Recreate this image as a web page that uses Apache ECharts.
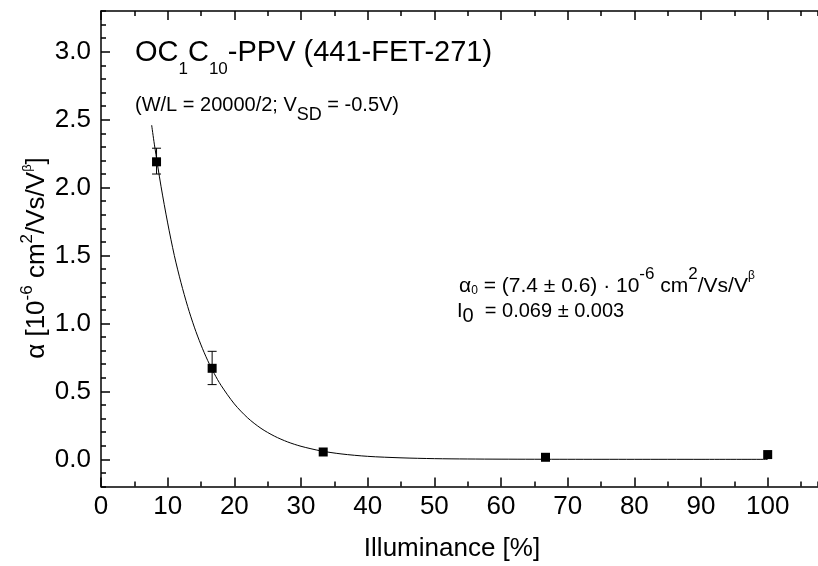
<!DOCTYPE html>
<html>
<head>
<meta charset="utf-8">
<script src="https://cdn.jsdelivr.net/npm/echarts@6/dist/echarts.min.js"></script>
<style>
html,body{margin:0;padding:0;background:#fff;}
#chart{width:818px;height:566px;}
</style>
</head>
<body>
<div id="chart"></div>
<script>
// Measured data points (Illuminance %, alpha in 1e-6 cm2/Vs/V^beta)
var pointX = [8.33, 16.67, 33.33, 66.67, 100];
var pointY = [2.19, 0.67, 0.054, 0.015, 0.035];
// Error bars (only visible on the first two points)
var errX = [8.33, 16.67];
var errLow = [2.10, 0.55];
var errHigh = [2.29, 0.795];
// Fit curve
var curveX = [7.6, 8, 9, 10, 11, 12, 13, 14, 15, 16, 17, 18, 20, 22, 24, 26, 28, 30, 33, 36, 40, 45, 50, 55, 60, 70, 80, 90, 100];
var curveY = [2.46, 2.32, 2.01, 1.74, 1.50, 1.30, 1.125, 0.973, 0.842, 0.728, 0.630, 0.545, 0.408, 0.305, 0.228, 0.171, 0.128, 0.096, 0.062, 0.040, 0.022, 0.011, 0.005, 0.0025, 0.0012, 0.0003, 0.0001, 0, 0];
// Tick labels
var xTickVals = [0, 10, 20, 30, 40, 50, 60, 70, 80, 90, 100];
var yTickVals = [0, 0.5, 1.0, 1.5, 2.0, 2.5, 3.0];

var FONT = 'Liberation Sans, Arial, sans-serif';
var chart = echarts.init(document.getElementById('chart'), null, {renderer: 'canvas'});

function pairs(xs, ys) { return xs.map(function (x, i) { return [x, ys[i]]; }); }

var axisLineStyle = {show: true, onZero: false, lineStyle: {color: '#000', width: 1.5}};
var noLine = {show: false, onZero: false};
var minorTickStyle = {show: true, inside: true, length: 5, lineStyle: {color: '#000', width: 1.5}};

function xAx(pos, major, withLabels, withLine) {
  return {
    type: 'value', position: pos, min: 0, max: 107.5, interval: 5,
    axisLine: withLine ? axisLineStyle : noLine,
    axisTick: major ? {show: true, inside: true, length: 9, customValues: xTickVals, lineStyle: {color: '#000', width: 1.5}} : minorTickStyle,
    axisLabel: withLabels ? {show: true, customValues: xTickVals, color: '#000', fontSize: 26, fontFamily: FONT, margin: 7} : {show: false},
    splitLine: {show: false}
  };
}
function yAx(major, withLabels, withLine) {
  return {
    type: 'value', position: 'left', min: -0.2, max: 3.3, interval: 0.1,
    axisLine: withLine ? axisLineStyle : noLine,
    axisTick: major ? {show: true, inside: true, length: 9, customValues: yTickVals, lineStyle: {color: '#000', width: 1.5}} : minorTickStyle,
    axisLabel: withLabels ? {show: true, customValues: yTickVals, color: '#000', fontSize: 26, fontFamily: FONT, margin: 10,
      formatter: function (v) { return v.toFixed(1); }} : {show: false},
    splitLine: {show: false}
  };
}

var option = {
  backgroundColor: '#fff',
  animation: false,
  grid: {left: 101, top: 11, width: 716.7, height: 475.5, containLabel: false, outerBoundsMode: 'none'},
  xAxis: [xAx('bottom', false, true, true), xAx('bottom', true, false, false), xAx('top', false, false, true), xAx('top', true, false, false)],
  yAxis: [yAx(false, true, true), yAx(true, false, false)],
  series: [
    {
      type: 'line', xAxisIndex: 0, yAxisIndex: 0,
      data: pairs(curveX, curveY), showSymbol: false, smooth: 0.3,
      lineStyle: {color: '#000', width: 1}, z: 2
    },
    {
      type: 'custom', xAxisIndex: 0, yAxisIndex: 0,
      data: errX.map(function (x, i) { return [x, errLow[i], errHigh[i]]; }),
      renderItem: function (params, api) {
        var x = api.value(0);
        var pl = api.coord([x, api.value(1)]);
        var ph = api.coord([x, api.value(2)]);
        var w = 4.5;
        var st = {stroke: '#000', lineWidth: 1};
        return {type: 'group', children: [
          {type: 'line', shape: {x1: ph[0], y1: ph[1], x2: pl[0], y2: pl[1]}, style: st},
          {type: 'line', shape: {x1: ph[0] - w, y1: ph[1], x2: ph[0] + w, y2: ph[1]}, style: st},
          {type: 'line', shape: {x1: pl[0] - w, y1: pl[1], x2: pl[0] + w, y2: pl[1]}, style: st}
        ]};
      },
      z: 3
    },
    {
      type: 'scatter', xAxisIndex: 0, yAxisIndex: 0,
      data: pairs(pointX, pointY), symbol: 'rect', symbolSize: 9,
      itemStyle: {color: '#000', opacity: 1}, z: 4
    }
  ],
  graphic: [
    {
      type: 'text', x: 135, y: 53, z: 10,
      style: {
        text: 'OC{sub|1}C{sub|10}-PPV (441-FET-271)',
        fontSize: 29, fontFamily: FONT, fill: '#000', align: 'left', verticalAlign: 'middle',
        rich: {sub: {fontSize: 17, fontFamily: FONT, padding: [32, 0, 0, 0]}}
      }
    },
    {
      type: 'text', x: 135, y: 105, z: 10,
      style: {
        text: '(W/L = 20000/2; V{sub|SD} = -0.5V)',
        fontSize: 20, fontFamily: FONT, fill: '#000', align: 'left', verticalAlign: 'middle',
        rich: {sub: {fontSize: 18, fontFamily: FONT, padding: [21, 0, 0, 0]}}
      }
    },
    {
      type: 'text', x: 459, y: 286, z: 10,
      style: {
        text: 'α{s0|0} = (7.4 ± 0.6) · 10{sup|-6} cm{sup|2}/Vs/V{supb|β}',
        fontSize: 21, fontFamily: FONT, fill: '#000', align: 'left', verticalAlign: 'middle',
        rich: {
          s0: {fontSize: 12, fontFamily: FONT, padding: [10, 0, 0, 0]},
          sup: {fontSize: 17, fontFamily: FONT, padding: [0, 0, 24, 0]},
          supb: {fontSize: 12, fontFamily: FONT, padding: [0, 0, 20, 0]}
        }
      }
    },
    {
      type: 'text', x: 457, y: 311, z: 10,
      style: {
        text: 'I{sub|0}  = 0.069 ± 0.003',
        fontSize: 20, fontFamily: FONT, fill: '#000', align: 'left', verticalAlign: 'middle',
        rich: {sub: {fontSize: 20, fontFamily: FONT, padding: [10, 0, 0, 0]}}
      }
    },
    {
      type: 'text', x: 37, y: 258, rotation: Math.PI / 2, z: 10,
      style: {
        text: 'α [10{sup|-6} cm{sup|2}/Vs/V{supb|β}]',
        fontSize: 26, fontFamily: FONT, fill: '#000', align: 'center', verticalAlign: 'middle',
        rich: {
          sup: {fontSize: 17, fontFamily: FONT, padding: [0, 0, 20, 0]},
          supb: {fontSize: 13, fontFamily: FONT, padding: [0, 0, 20, 0]}
        }
      }
    },
    {
      type: 'text', x: 452, y: 549, z: 10,
      style: {
        text: 'Illuminance [%]',
        fontSize: 26, fontFamily: FONT, fill: '#000', align: 'center', verticalAlign: 'middle'
      }
    }
  ]
};
chart.setOption(option);
</script>
</body>
</html>
